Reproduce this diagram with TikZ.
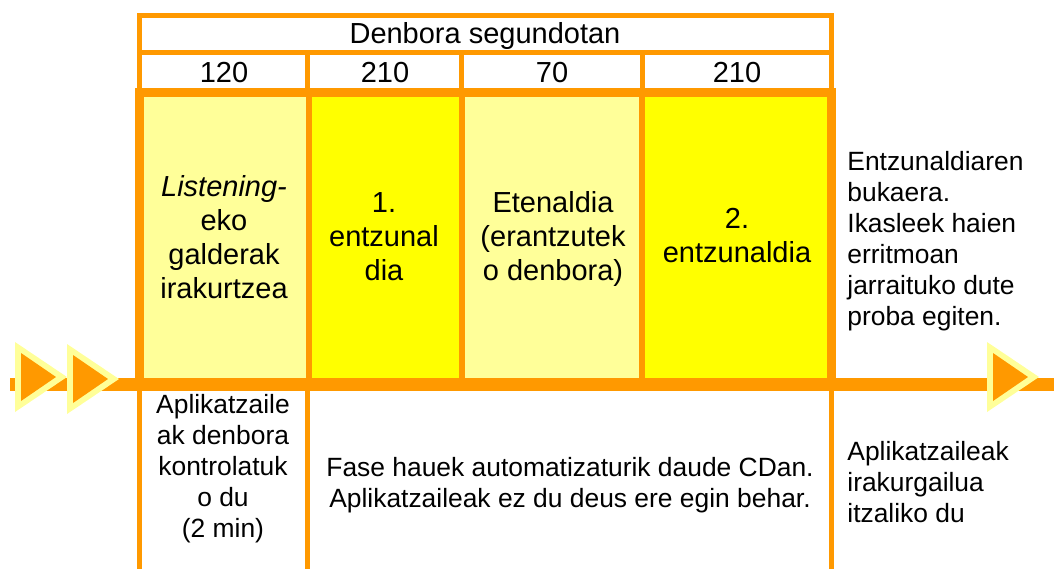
\documentclass[tikz,border=0pt]{standalone}
\usepackage{fontspec}
\setmainfont{Liberation Sans}
\usetikzlibrary{calc}
\definecolor{tlorange}{HTML}{FF9900}
\definecolor{cellpale}{HTML}{FFFF99}
\definecolor{cellyellow}{HTML}{FFFF00}

\begin{document}
\begin{tikzpicture}[x=0.5pt,y=-0.5pt,
  bigtext/.style={font=\fontsize{14.5}{17}\selectfont,align=center,inner sep=0pt},
  smalltext/.style={font=\fontsize{13.2}{15.5}\selectfont,inner sep=0pt},
  thinline/.style={draw=tlorange,line width=2.5pt},
  thickline/.style={draw=tlorange,line width=4.5pt}]
  \useasboundingbox (0,0) rectangle (1054,569);

  \fill[cellpale] (143,97) rectangle (308,378);
  \fill[cellyellow] (308,97) rectangle (462,378);
  \fill[cellpale] (462,97) rectangle (642,378);
  \fill[cellyellow] (642,97) rectangle (831,378);

  \draw[thinline] (139.5,88) -- (139.5,15.5) -- (831.5,15.5) -- (831.5,88);
  \draw[thinline] (139.5,52.5) -- (831.5,52.5);
  \foreach \x in {307.5,461.5,642.5} {%
    \draw[thinline] (\x,52.5) -- (\x,88);
  }

  \draw[thickline] (139,378) -- (139,92.5) -- (831.5,92.5) -- (831.5,378);
  \foreach \x in {308.5,461.5,641.5} {%
    \draw[draw=tlorange,line width=3pt] (\x,95) -- (\x,378);
  }

  \foreach \x in {139.5,307.5,831.5} {%
    \draw[thinline] (\x,384) -- (\x,569);
  }
  \draw[draw=tlorange,line width=6.5pt] (10,384.5) -- (1054,384.5);

  \foreach \x/\y in {15/342,67/344,987/342} {%
    \fill[cellpale] (\x,\y) -- ++(52,35) -- ++(-52,35) -- cycle;
    \fill[tlorange] (\x+6,\y+11) -- ++(35,24) -- ++(-35,24) -- cycle;
  }

  \node[bigtext,anchor=base] (hdr) at (485,43) {Denbora segundotan};
  \foreach \x/\n [count=\i] in {224/120,385/210,552/70,737/210} {%
    \node[bigtext,anchor=base] (num\i) at (\x,82) {\n};
  }

  \node[bigtext] (listen) at (224,237) {\textit{Listening-}\\eko\\galderak\\irakurtzea};
  \node[bigtext] (first) at (384,237) {1.\\entzunal\\dia};
  \node[bigtext] (pause) at (553,239) {Etenaldia\\(erantzutek\\o denbora)};
  \node[bigtext] (second) at (737,236) {2.\\entzunaldia};

  \node[smalltext,align=left,anchor=west] (endtxt) at (847,241)
    {Entzunaldiaren\\bukaera.\\Ikasleek haien\\erritmoan\\jarraituko dute\\proba egiten.};
  \node[smalltext,align=center] (ctrl) at (223,469)
    {Aplikatzaile\\ak denbora\\kontrolatuk\\o du\\(2 min)};
  \node[smalltext,align=center] (auto) at (570,485)
    {Fase hauek automatizaturik daude CDan.\\Aplikatzaileak ez du deus ere egin behar.};
  \node[smalltext,align=left,anchor=west] (off) at (847,482)
    {Aplikatzaileak\\irakurgailua\\itzaliko du};
\end{tikzpicture}
\end{document}
